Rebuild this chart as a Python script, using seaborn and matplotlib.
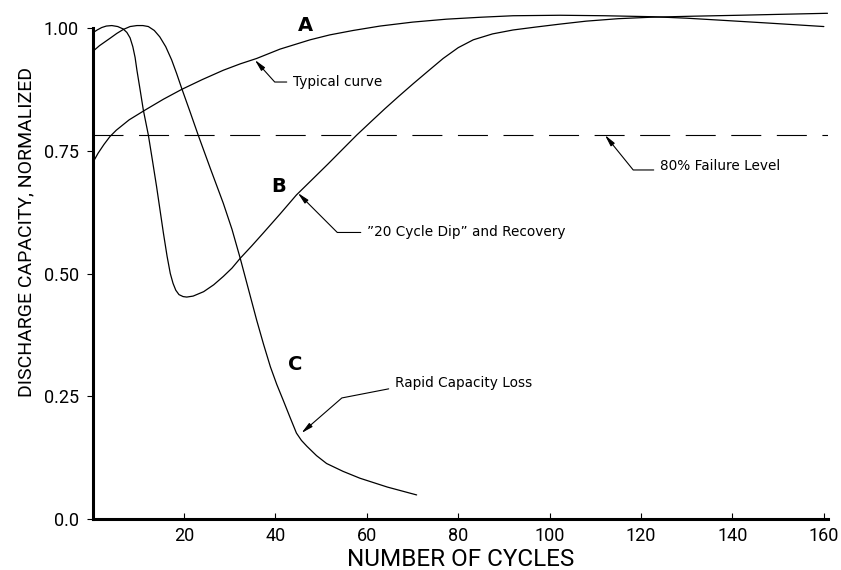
import matplotlib
matplotlib.use("Agg")
import matplotlib.pyplot as plt
import seaborn as sns
import pandas as pd

# ---- data ----
cycles_a = [0, 1.2, 2.5, 3.8, 5.2, 8.0, 11.5, 15.5, 19.5, 24.0, 28.6, 32.3, 35.9, 41.0, 47.6, 51.9, 57.0,
            62.9, 70.0, 77.4, 85.0, 92.0, 102.3, 112.0, 122.6, 130.0, 137.3, 148.0, 160.0]
capacity_a = [0.725, 0.745, 0.763, 0.779, 0.792, 0.813, 0.833, 0.855, 0.875, 0.895, 0.914, 0.927, 0.938, 0.957,
              0.976, 0.986, 0.995, 1.004, 1.012, 1.018, 1.022, 1.025, 1.026, 1.025, 1.023, 1.020, 1.016, 1.010,
              1.003]

cycles_b = [0, 1.0, 2.0, 3.0, 4.2, 5.5, 6.7, 7.5, 8.2, 8.8, 9.3, 9.7, 10.4, 11.1, 12.2, 13.1, 14.0, 15.5, 16.3,
            17.0, 17.6, 18.2, 18.9, 19.8, 20.6, 22.0, 24.3, 26.5, 28.6, 30.5, 32.3, 34.8, 37.3, 41.0, 44.6, 48.0,
            51.5, 54.7, 57.8, 61.0, 64.0, 67.0, 70.2, 73.5, 76.7, 80.0, 83.3, 87.5, 92.0, 97.0, 102.3, 108.0,
            115.0, 122.2, 131.0, 141.5, 151.0, 160.8]
capacity_b = [0.990, 0.996, 1.001, 1.004, 1.005, 1.003, 0.998, 0.991, 0.980, 0.962, 0.940, 0.914, 0.874, 0.833,
              0.782, 0.730, 0.677, 0.582, 0.535, 0.500, 0.480, 0.466, 0.457, 0.453, 0.452, 0.454, 0.463, 0.477,
              0.494, 0.511, 0.531, 0.556, 0.582, 0.621, 0.660, 0.691, 0.723, 0.753, 0.782, 0.810, 0.836, 0.861,
              0.887, 0.913, 0.938, 0.960, 0.976, 0.988, 0.996, 1.002, 1.008, 1.014, 1.019, 1.022, 1.024, 1.026,
              1.028, 1.030]

cycles_c = [0, 1.5, 3.8, 5.3, 6.7, 8.2, 9.7, 11.0, 12.2, 13.5, 14.7, 16.0, 17.3, 18.4, 19.5, 21.3, 23.1, 25.8,
            28.6, 30.5, 32.3, 34.1, 35.9, 37.4, 38.9, 40.3, 41.7, 43.2, 44.6, 45.7, 46.9, 49.0, 51.2, 54.8, 58.5,
            64.5, 70.9]
capacity_c = [0.952, 0.964, 0.979, 0.989, 0.997, 1.003, 1.005, 1.005, 1.003, 0.995, 0.982, 0.962, 0.935, 0.907,
              0.877, 0.830, 0.782, 0.713, 0.643, 0.590, 0.531, 0.468, 0.405, 0.356, 0.310, 0.274, 0.242, 0.207,
              0.175, 0.160, 0.148, 0.129, 0.113, 0.097, 0.083, 0.065, 0.049]

failure_level = 0.782

x_ticks = [20, 40, 60, 80, 100, 120, 140, 160]
y_ticks = [0.0, 0.25, 0.50, 0.75, 1.00]
y_tick_labels = ["0.0", "0.25", "0.50", "0.75", "1.00"]

curve_labels = ["A", "B", "C"]
notes = ["Typical curve", "\u201d20 Cycle Dip\u201d and Recovery", "80% Failure Level", "Rapid Capacity Loss"]

# ---- plotting ----
sns.set_style("white")
plt.rcParams["font.family"] = ["Roboto", "DejaVu Sans"]
plt.rcParams["font.weight"] = "normal"
plt.rcParams["text.color"] = "black"
plt.rcParams["axes.labelcolor"] = "black"
plt.rcParams["xtick.color"] = "black"
plt.rcParams["ytick.color"] = "black"

fig = plt.figure(figsize=(8.41, 5.70), dpi=100)
ax = fig.add_axes([0.1101, 0.0895, 0.8744, 0.8958])

for xs, ys in [(cycles_a, capacity_a), (cycles_b, capacity_b), (cycles_c, capacity_c)]:
    df = pd.DataFrame({"cycles": xs, "capacity": ys})
    sns.lineplot(data=df, x="cycles", y="capacity", color="black", lw=0.9, ax=ax,
                 sort=False, estimator=None)

ax.axhline(failure_level, color="black", lw=0.8, dashes=(27, 14))

ax.set_xlim(0, 160.9)
ax.set_ylim(0, 1.04)
ax.set_xticks(x_ticks)
ax.set_xticklabels([str(t) for t in x_ticks])
ax.set_yticks(y_ticks)
ax.set_yticklabels(y_tick_labels)

for s in ["top", "right"]:
    ax.spines[s].set_visible(False)
for s in ["left", "bottom"]:
    ax.spines[s].set_linewidth(2.2)
    ax.spines[s].set_color("black")
ax.spines["left"].set_bounds(0, 1.0)

ax.tick_params(axis="x", direction="in", length=4, width=0.8, pad=6, labelsize=13, colors="black")
ax.tick_params(axis="y", direction="out", length=4, width=0.8, pad=6, labelsize=13, colors="black")
ax.tick_params(left=True, bottom=True)

ax.set_xlabel("NUMBER OF CYCLES", fontsize=17.5, labelpad=2, color="black")
ax.set_ylabel("DISCHARGE CAPACITY, NORMALIZED", fontsize=14, color="black")
ax.yaxis.set_label_coords(-0.078, 0.562)

# curve letters
for lab, (lx, ly) in zip(curve_labels, [(46.5, 1.005), (40.6, 0.678), (44.4, 0.314)]):
    ax.text(lx, ly, lab, fontsize=14, fontweight="bold", ha="center", va="center", color="black",
            family=["DejaVu Sans"])

def note(text, tip, pos, angA, angB, rel=0.5):
    ax.annotate(text, xy=tip, xytext=pos, fontsize=9.8, ha="left", va="center", color="black",
                family=["DejaVu Sans"],
                arrowprops=dict(arrowstyle="-|>,head_length=0.7,head_width=0.15",
                                connectionstyle=f"angle,angleA={angA},angleB={angB},rad=0",
                                color="black", lw=0.8, shrinkA=2, shrinkB=0,
                                relpos=(0, rel)))

note(notes[0], (35.5, 0.935), (43.8, 0.890), 0, 132)
note(notes[1], (44.9, 0.664), (60.0, 0.585), 0, 135, 0.45)
note(notes[2], (112.1, failure_level), (124.1, 0.718), 0, 129, 0.25)
note(notes[3], (45.7, 0.175), (66.1, 0.276), 11, 41, 0.2)

fig.savefig("out.png", dpi=100)
